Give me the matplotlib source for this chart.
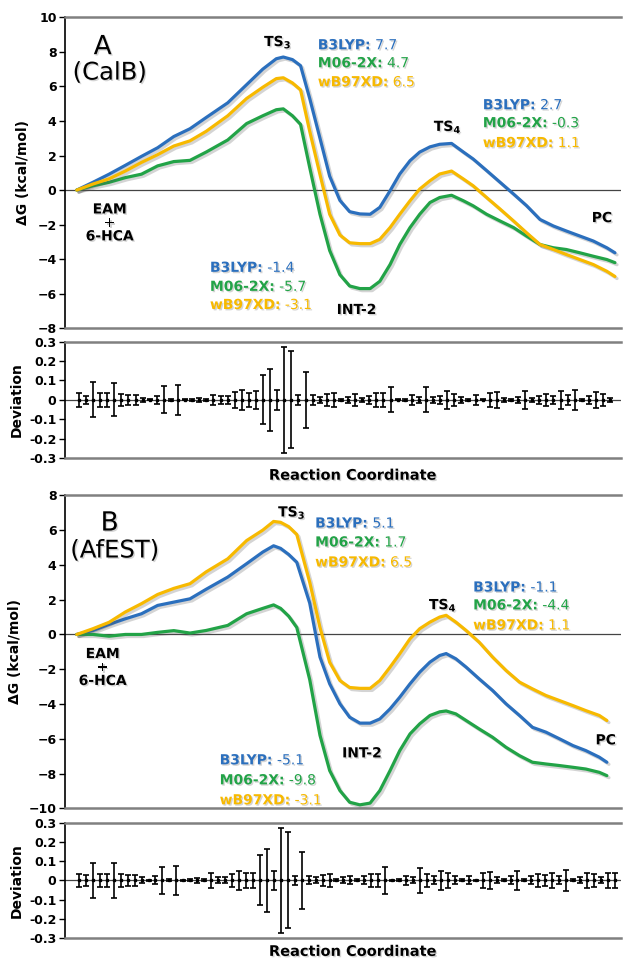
import numpy as np
import matplotlib.pyplot as plt
import matplotlib.patheffects as pe
from matplotlib.ticker import FuncFormatter

# free energy profiles along the reaction coordinate
x_a = [0, 3, 6, 9, 12, 15, 18, 21, 24, 28, 31.5, 34.5, 37, 38.3, 40, 41.5, 43.2, 45.1,
       46.9, 48.8, 50.6, 52.5, 54.4, 56.2, 58.1, 59.9, 61.8, 63.6, 65.5, 67.3, 69.5, 71.7,
       73.5, 76, 78.5, 81, 83.4, 85.9, 88.4, 90.8, 93.3, 95.8, 98.3, 99.8]
b3lyp_a = [0, 0.45, 0.92, 1.43, 1.95, 2.45, 3.1, 3.55, 4.2, 5.05, 6.1, 7.0, 7.6, 7.7, 7.55,
           7.2, 5.3, 3.0, 0.8, -0.6, -1.25, -1.38, -1.4, -1.0, -0.04, 0.93, 1.7, 2.2, 2.5,
           2.65, 2.7, 2.2, 1.8, 1.13, 0.45, -0.23, -0.9, -1.7, -2.08, -2.37, -2.66, -2.95,
           -3.34, -3.63]
m062x_a = [0, 0.25, 0.45, 0.72, 0.92, 1.4, 1.65, 1.72, 2.2, 2.9, 3.85, 4.3, 4.65, 4.7, 4.3,
           3.8, 1.3, -1.4, -3.5, -4.9, -5.55, -5.7, -5.7, -5.28, -4.31, -3.15, -2.17, -1.4,
           -0.72, -0.43, -0.3, -0.62, -0.91, -1.4, -1.79, -2.17, -2.66, -3.15, -3.34, -3.44,
           -3.63, -3.83, -4.02, -4.2]
wb97xd_a = [0, 0.35, 0.65, 1.1, 1.6, 2.05, 2.55, 2.85, 3.4, 4.3, 5.3, 5.95, 6.45, 6.5, 6.2,
            5.8, 3.4, 0.9, -1.4, -2.6, -3.05, -3.1, -3.1, -2.85, -2.17, -1.4, -0.62, 0.06,
            0.54, 0.93, 1.1, 0.64, 0.25, -0.43, -1.1, -1.79, -2.47, -3.15, -3.44, -3.73,
            -4.02, -4.31, -4.7, -5.0]

x_b = [0, 3, 6, 9, 12, 15, 18, 21, 24, 28, 31.5, 34.5, 36.5, 37.8, 39.3, 40.8, 43.2, 45.1,
       46.9, 48.8, 50.6, 52.5, 54.4, 56.2, 58.1, 59.9, 61.8, 63.6, 65.5, 67.3, 68.5, 70.3,
       72.2, 74.6, 77.1, 79.6, 82.1, 84.5, 87.0, 89.5, 92.0, 94.4, 96.9, 98.3]
b3lyp_b = [0, 0.23, 0.58, 0.9, 1.19, 1.67, 1.86, 2.05, 2.6, 3.3, 4.07, 4.74, 5.1, 4.95, 4.6,
           4.15, 1.8, -1.3, -2.84, -3.99, -4.76, -5.1, -5.1, -4.86, -4.28, -3.61, -2.84,
           -2.17, -1.59, -1.21, -1.1, -1.4, -1.88, -2.55, -3.22, -3.99, -4.66, -5.34, -5.62,
           -6.0, -6.39, -6.68, -7.06, -7.35]
m062x_b = [0, 0.0, -0.1, 0.0, 0.0, 0.12, 0.22, 0.08, 0.23, 0.52, 1.19, 1.5, 1.7, 1.5, 1.05,
           0.4, -2.6, -5.8, -7.83, -8.98, -9.65, -9.8, -9.7, -8.98, -7.83, -6.68, -5.72,
           -5.14, -4.66, -4.45, -4.4, -4.57, -4.95, -5.43, -5.91, -6.49, -6.97, -7.35, -7.45,
           -7.54, -7.64, -7.74, -7.93, -8.12]
wb97xd_b = [0, 0.33, 0.7, 1.29, 1.77, 2.3, 2.65, 2.92, 3.6, 4.35, 5.4, 6.0, 6.5, 6.45, 6.2,
            5.75, 3.0, 0.4, -1.6, -2.65, -3.05, -3.1, -3.1, -2.65, -1.88, -1.11, -0.25, 0.33,
            0.71, 1.0, 1.1, 0.71, 0.23, -0.44, -1.3, -2.07, -2.74, -3.13, -3.51, -3.8, -4.09,
            -4.38, -4.66, -4.95]

# deviation between the three functionals, one value per window
dev_a = [0.035, 0.02, 0.09, 0.035, 0.035, 0.085, 0.03, 0.025, 0.025, 0.012, 0.003, 0.02,
         0.07, 0.005, 0.077, 0.002, 0.005, 0.012, 0.005, 0.026, 0.02, 0.02, 0.04, 0.05,
         0.035, 0.045, 0.126, 0.16, 0.05, 0.275, 0.25, 0.025, 0.145, 0.025, 0.015, 0.03,
         0.035, 0.005, 0.015, 0.03, 0.01, 0.02, 0.035, 0.035, 0.065, 0.002, 0.005, 0.025,
         0.015, 0.065, 0.015, 0.02, 0.045, 0.03, 0.015, 0.005, 0.025, 0.002, 0.035, 0.04,
         0.01, 0.005, 0.015, 0.045, 0.01, 0.02, 0.03, 0.02, 0.045, 0.025, 0.05, 0.005,
         0.02, 0.04, 0.03, 0.01]
dev_b = [0.035, 0.03, 0.09, 0.035, 0.035, 0.09, 0.035, 0.03, 0.03, 0.015, 0.003, 0.02,
         0.07, 0.005, 0.077, 0.002, 0.005, 0.012, 0.005, 0.04, 0.015, 0.015, 0.035, 0.05,
         0.04, 0.04, 0.13, 0.165, 0.05, 0.275, 0.25, 0.025, 0.147, 0.02, 0.015, 0.03,
         0.035, 0.005, 0.015, 0.02, 0.005, 0.02, 0.035, 0.035, 0.07, 0.002, 0.005, 0.025,
         0.015, 0.065, 0.035, 0.02, 0.05, 0.04, 0.02, 0.005, 0.02, 0.002, 0.04, 0.045,
         0.015, 0.005, 0.02, 0.05, 0.005, 0.02, 0.035, 0.03, 0.04, 0.02, 0.055, 0.005,
         0.015, 0.04, 0.035, 0.015, 0.04, 0.04]

# energies quoted at the stationary points
ts3_a = ["7.7", "4.7", "6.5"]
ts4_a = ["2.7", "-0.3", "1.1"]
int2_a = ["-1.4", "-5.7", "-3.1"]
ts3_b = ["5.1", "1.7", "6.5"]
ts4_b = ["-1.1", "-4.4", "1.1"]
int2_b = ["-5.1", "-9.8", "-3.1"]

methods = ["B3LYP:", "M06-2X:", "wB97XD:"]
colors = ["#2b6fbd", "#22a347", "#f7b900"]

plt.rcParams['font.family'] = ['DejaVu Sans']

shadow_line = [pe.SimpleLineShadow(offset=(1.5, -1.5), alpha=0.25, shadow_color='#555555'),
               pe.Normal()]
shadow_text = [pe.withSimplePatchShadow(offset=(1, -1), alpha=0.25, shadow_rgbFace='#555555')]

fig = plt.figure(figsize=(6.24, 9.6), dpi=100)
axA = fig.add_axes([0.104, 0.658, 0.891, 0.324])
axdA = fig.add_axes([0.104, 0.523, 0.891, 0.121])
axB = fig.add_axes([0.104, 0.158, 0.891, 0.326])
axdB = fig.add_axes([0.104, 0.023, 0.891, 0.120])

XLIM = (-2.2, 100.9)


def style_frame(ax):
    ax.set_xlim(*XLIM)
    ax.set_xticks([])
    ax.spines['right'].set_visible(False)
    for s in ('top', 'bottom'):
        ax.spines[s].set_color('#808080')
        ax.spines[s].set_linewidth(1.8)
    ax.spines['left'].set_color('black')
    ax.spines['left'].set_linewidth(1.2)
    ax.tick_params(axis='y', direction='out', length=4, width=1, labelsize=9, pad=2)
    for lab in ax.get_yticklabels():
        lab.set_fontweight('bold')
    ax.axhline(0, color='#444444', lw=0.9, zorder=1)


def label_block(ax, x, ys, values):
    for m, v, c, y in zip(methods, values, colors, ys):
        t = ax.text(x, y, m, color=c, fontsize=10, fontweight='bold', va='center',
                    ha='left', path_effects=shadow_text)
        ax.annotate(" " + v, xy=(1, 0.5), xycoords=t, color=c, fontsize=10,
                    va='center', ha='left', path_effects=shadow_text)


def black_text(ax, x, y, s, size=10, weight='bold', **kw):
    ax.text(x, y, s, fontsize=size, fontweight=weight, ha='center', va='center',
            color='black', path_effects=shadow_text, **kw)


def energy_panel(ax, xs, curves, ylim, letter, enzyme, pos):
    for ys, c in zip(curves, colors):
        ax.plot(xs, ys, color=c, lw=2.3, solid_capstyle='round', solid_joinstyle='round',
                zorder=3, path_effects=shadow_line)
    ax.set_ylim(*ylim)
    ax.set_yticks(np.arange(ylim[0], ylim[1] + 1, 2))
    style_frame(ax)
    ax.set_ylabel("ΔG (kcal/mol)", fontsize=10, fontweight='bold', labelpad=5)
    black_text(ax, pos['letter'][0], pos['letter'][1], letter, size=19, weight='normal')
    black_text(ax, pos['enzyme'][0], pos['enzyme'][1], enzyme, size=17.5, weight='normal')
    black_text(ax, pos['eam'][0], pos['eam'][1], "EAM\n+\n6-HCA", linespacing=0.95)
    black_text(ax, pos['ts3'][0], pos['ts3'][1], "TS$_\\mathbf{3}$")
    black_text(ax, pos['ts4'][0], pos['ts4'][1], "TS$_\\mathbf{4}$")
    black_text(ax, pos['pc'][0], pos['pc'][1], "PC")
    black_text(ax, pos['int2'][0], pos['int2'][1], "INT-2")


def deviation_panel(ax, devs, end):
    xs = np.linspace(0.4, end, len(devs))
    ax.errorbar(xs, np.zeros(len(devs)), yerr=devs, fmt='s', ms=2, color='black',
                ecolor='black', elinewidth=1.2, capsize=2.3, capthick=1.2, zorder=3)
    ax.set_ylim(-0.3, 0.3)
    ax.set_yticks([-0.3, -0.2, -0.1, 0, 0.1, 0.2, 0.3])
    ax.yaxis.set_major_formatter(FuncFormatter(lambda v, p: "0" if abs(v) < 1e-9 else f"{v:.1f}"))
    style_frame(ax)
    ax.set_ylabel("Deviation", fontsize=10, fontweight='bold', labelpad=4)


energy_panel(axA, x_a, [b3lyp_a, m062x_a, wb97xd_a], (-8, 10), "A", "(CalB)",
             {'letter': (4.8, 8.27), 'enzyme': (6.1, 6.8), 'eam': (6.1, -1.9),
              'ts3': (37.3, 8.55), 'ts4': (68.8, 3.64), 'pc': (97.4, -1.62),
              'int2': (51.9, -6.94)})
label_block(axA, 44.7, [8.38, 7.34, 6.24], ts3_a)
label_block(axA, 75.3, [4.91, 3.87, 2.72], ts4_a)
label_block(axA, 24.7, [-4.5, -5.6, -6.65], int2_a)

energy_panel(axB, x_b, [b3lyp_b, m062x_b, wb97xd_b], (-10, 8), "B", "(AfEST)",
             {'letter': (6.1, 6.38), 'enzyme': (7.05, 4.83), 'eam': (4.8, -1.9),
              'ts3': (39.9, 7.0), 'ts4': (67.9, 1.67), 'pc': (98.1, -6.09),
              'int2': (52.9, -6.84)})
label_block(axB, 44.2, [6.38, 5.29, 4.14], ts3_b)
label_block(axB, 73.5, [2.7, 1.67, 0.52], ts4_b)
label_block(axB, 26.5, [-7.24, -8.39, -9.54], int2_b)

deviation_panel(axdA, dev_a, 98.9)
deviation_panel(axdB, dev_b, 99.8)

for yy in (0.505, 0.009):
    fig.text(0.566, yy, "Reaction Coordinate", fontsize=10.5, fontweight='bold',
             ha='center', va='center', path_effects=shadow_text)

fig.align_ylabels([axA, axdA, axB, axdB])
fig.savefig("out.png", dpi=100)
